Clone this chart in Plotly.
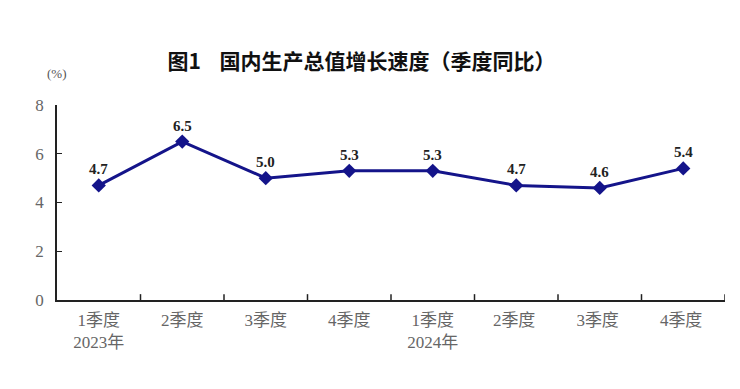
import plotly.graph_objects as go

categories = ["1季度<br>2023年", "2季度", "3季度", "4季度", "1季度<br>2024年", "2季度 ", "3季度 ", "4季度 "]
values = [4.7, 6.5, 5.0, 5.3, 5.3, 4.7, 4.6, 5.4]
y_ticks = [0, 2, 4, 6, 8]

line_color = "#14148a"
serif = "Liberation Serif, Noto Sans CJK SC, serif"

x_idx = list(range(len(values)))

fig = go.Figure()
fig.add_trace(go.Scatter(
    x=x_idx, y=values, mode="lines+markers",
    line=dict(color=line_color, width=3),
    marker=dict(symbol="diamond", size=11, color=line_color),
    hoverinfo="skip", showlegend=False,
))

for xi, v in zip(x_idx, values):
    fig.add_annotation(x=xi, y=v, text=f"<b>{v:.1f}</b>", showarrow=False,
                       yshift=16, font=dict(family=serif, size=15, color="#222"))

fig.add_annotation(xref="paper", yref="paper", x=0, y=1, xanchor="center", yanchor="middle",
                   yshift=32, text="(%)", showarrow=False,
                   font=dict(family=serif, size=13, color="#555"))

fig.update_layout(
    width=740, height=389,
    margin=dict(l=49, r=23, t=97, b=97, autoexpand=False),
    paper_bgcolor="white", plot_bgcolor="white",
    title=dict(text="<b>图1</b>    <b>国内生产总值增长速度（季度同比）</b>",
               x=353.5 / 740, xanchor="center",
               y=1 - 54 / 389, yanchor="middle",
               font=dict(family="Noto Sans CJK SC", size=21, color="#111")),
    xaxis=dict(
        tickmode="array", tickvals=x_idx, ticktext=categories,
        range=[-0.5, len(values) - 0.5],
        showline=True, linecolor="#222", linewidth=1.5,
        ticks="", showgrid=False, zeroline=False, automargin=False,
        tickfont=dict(family=serif, size=17, color="#666"),
        ticklabelstandoff=4,
    ),
    yaxis=dict(
        range=[0, 8], tickvals=y_ticks,
        showline=True, linecolor="#222", linewidth=1.5,
        ticks="inside", ticklen=5, tickcolor="#222",
        showgrid=False, zeroline=False, automargin=False,
        tickfont=dict(family=serif, size=17, color="#666"),
        ticklabelstandoff=8,
    ),
)

# category boundary ticks on x axis (inside)
for b in range(1, len(values) + 1):
    fig.add_shape(type="line", xref="x", yref="paper", x0=b - 0.5, x1=b - 0.5,
                  y0=0, y1=0.03, line=dict(color="#222", width=1.5))

fig.write_html("out.html")
